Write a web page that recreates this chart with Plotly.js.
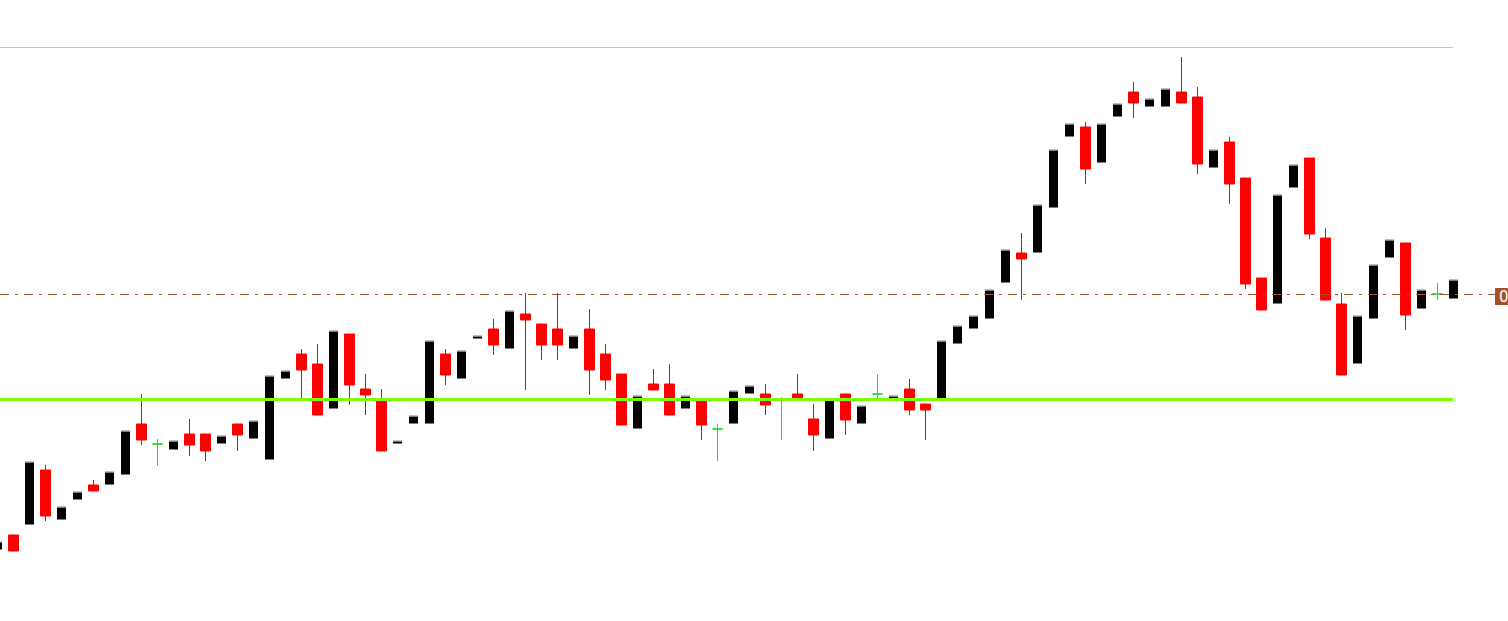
<!DOCTYPE html>
<html>
<head>
<meta charset="utf-8">
<script src="https://cdn.plot.ly/plotly-3.0.1.min.js"></script>
<style>
html,body{margin:0;padding:0;background:#ffffff;overflow:hidden}
#chart{width:1508px;height:621px}
</style>
</head>
<body>
<div id="chart"></div>
<script>
// bar index (time order)
const bars = [0,1,2,3,4,5,6,7,8,9,10,11,12,13,14,15,16,17,18,19,20,21,22,23,24,25,26,27,28,29,
  30,31,32,33,34,35,36,37,38,39,40,41,42,43,44,45,46,47,48,49,50,51,52,53,54,55,56,57,58,59,
  60,61,62,63,64,65,66,67,68,69,70,71,72,73,74,75,76,77,78,79,80,81,82,83,84,85,86,87,88,89,90,91];

const open = [1071,1086,1096,1151,1101,1121,1136,1136,1146,1197,
  1177,1171,1187,1187,1177,1197,1182,1161,1242,1267,
  1257,1212,1287,1232,1221,1177,1197,1197,1267,1242,
  1282,1292,1272,1307,1297,1292,1272,1292,1267,1247,
  1192,1237,1237,1212,1221,1192,1197,1227,1227,1222,
  1227,1202,1182,1227,1197,1227,1222,1232,1217,1222,
  1277,1292,1302,1338,1368,1368,1413,1484,1494,1458,
  1504,1529,1514,1514,1529,1524,1453,1479,1443,1343,
  1317,1433,1463,1383,1317,1257,1302,1363,1378,1312,
  1327,1322];

const high = [1080,1086,1160,1156,1115,1130,1141,1150,1191,1227,
  1182,1181,1202,1187,1186,1197,1201,1246,1251,1272,
  1277,1291,1287,1247,1232,1181,1206,1281,1272,1271,
  1286,1302,1311,1328,1297,1328,1286,1312,1277,1247,
  1226,1252,1257,1226,1221,1197,1231,1236,1237,1224,
  1247,1217,1222,1227,1216,1247,1226,1242,1217,1281,
  1296,1306,1332,1372,1388,1417,1472,1498,1499,1498,
  1518,1539,1523,1533,1564,1534,1472,1484,1443,1343,
  1427,1457,1463,1393,1328,1306,1357,1382,1378,1332,
  1338,1342];

const low = [1071,1070,1096,1100,1101,1121,1130,1136,1146,1176,
  1155,1171,1165,1160,1177,1170,1182,1161,1242,1223,
  1206,1212,1216,1206,1170,1177,1197,1197,1236,1242,
  1282,1266,1272,1231,1261,1261,1272,1226,1231,1196,
  1192,1231,1206,1212,1181,1160,1197,1227,1206,1181,
  1223,1170,1182,1186,1197,1222,1222,1206,1181,1222,
  1277,1292,1302,1338,1321,1368,1413,1484,1437,1458,
  1504,1503,1514,1514,1518,1447,1453,1417,1332,1311,
  1317,1433,1382,1321,1246,1257,1302,1363,1291,1312,
  1321,1322];

const close = [1080,1070,1160,1105,1115,1130,1130,1150,1191,1181,
  1177,1181,1176,1170,1186,1186,1201,1246,1251,1251,
  1206,1291,1236,1226,1170,1181,1206,1281,1246,1271,
  1286,1276,1311,1301,1276,1276,1286,1251,1241,1196,
  1226,1231,1206,1226,1196,1192,1231,1236,1216,1222,
  1223,1186,1222,1201,1216,1227,1226,1211,1211,1281,
  1296,1306,1332,1372,1362,1417,1472,1498,1452,1498,
  1518,1518,1523,1533,1518,1457,1472,1437,1337,1311,
  1427,1457,1387,1321,1246,1306,1357,1382,1306,1332,
  1327,1342];

// horizontal levels
const topLevel = 1573.5;
const supportLevel = 1221.5;
const priceLevel = 1326.5;
const priceLabel = "0";
const priceLabelLow = 1316;
const priceLabelHigh = 1333;

// split into regular candles and doji (open == close)
function pick(arr, idx){ return idx.map(i => arr[i]); }
const regIdx = [], dojiIdx = [];
bars.forEach((b, i) => { (open[i] === close[i] ? dojiIdx : regIdx).push(i); });

const mainTrace = {
  type: 'candlestick',
  x: pick(bars, regIdx),
  open: pick(open, regIdx), high: pick(high, regIdx),
  low: pick(low, regIdx), close: pick(close, regIdx),
  increasing: {line: {color: '#ffffff', width: 1}, fillcolor: '#000000'},
  decreasing: {line: {color: '#ff0000', width: 1}, fillcolor: '#ff0000'},
  whiskerwidth: 0,
  hoverinfo: 'skip',
  showlegend: false
};
const dojiTrace = {
  type: 'candlestick',
  x: pick(bars, dojiIdx),
  open: pick(open, dojiIdx), high: pick(high, dojiIdx),
  low: pick(low, dojiIdx), close: pick(close, dojiIdx),
  increasing: {line: {color: '#22dd22', width: 1}, fillcolor: '#22dd22'},
  decreasing: {line: {color: '#22dd22', width: 1}, fillcolor: '#22dd22'},
  whiskerwidth: 0,
  hoverinfo: 'skip',
  showlegend: false
};

const W = 1508;
const layout = {
  width: 1508, height: 621,
  margin: {l: 0, r: 0, t: 0, b: 0, pad: 0},
  paper_bgcolor: '#ffffff', plot_bgcolor: '#ffffff',
  showlegend: false,
  boxgap: 0.375, boxgroupgap: 0,
  xaxis: {visible: false, range: [0.15625, 94.40625], rangeslider: {visible: false}, fixedrange: true},
  yaxis: {visible: false, range: [1000, 1621], fixedrange: true},
  shapes: [
    {type: 'line', layer: 'above', xref: 'paper', yref: 'y', x0: 0, x1: 1453 / W, y0: topLevel, y1: topLevel,
     line: {color: '#a6e07a', width: 1}},
    {type: 'line', layer: 'above', xref: 'paper', yref: 'y', x0: 0, x1: 1453 / W, y0: supportLevel, y1: supportLevel,
     line: {color: '#7cfc00', width: 3}},
    {type: 'line', layer: 'above', xref: 'paper', yref: 'y', x0: 0, x1: 1495 / W, y0: priceLevel, y1: priceLevel,
     line: {color: '#a0522d', width: 1, dash: '9px,6px,3px,6px'}},
    {type: 'rect', layer: 'above', xref: 'paper', yref: 'y', x0: 1495 / W, x1: 1, y0: priceLabelLow, y1: priceLabelHigh,
     fillcolor: '#a0522d', line: {width: 0}}
  ],
  annotations: [
    {xref: 'paper', yref: 'y', x: 1503.5 / W, y: (priceLabelLow + priceLabelHigh) / 2,
     text: priceLabel, showarrow: false, xanchor: 'center', yanchor: 'middle',
     font: {family: 'DejaVu Sans, sans-serif', size: 15, color: '#ffffff'}}
  ]
};

Plotly.newPlot('chart', [mainTrace, dojiTrace], layout, {displayModeBar: false, staticPlot: true});
</script>
</body>
</html>
